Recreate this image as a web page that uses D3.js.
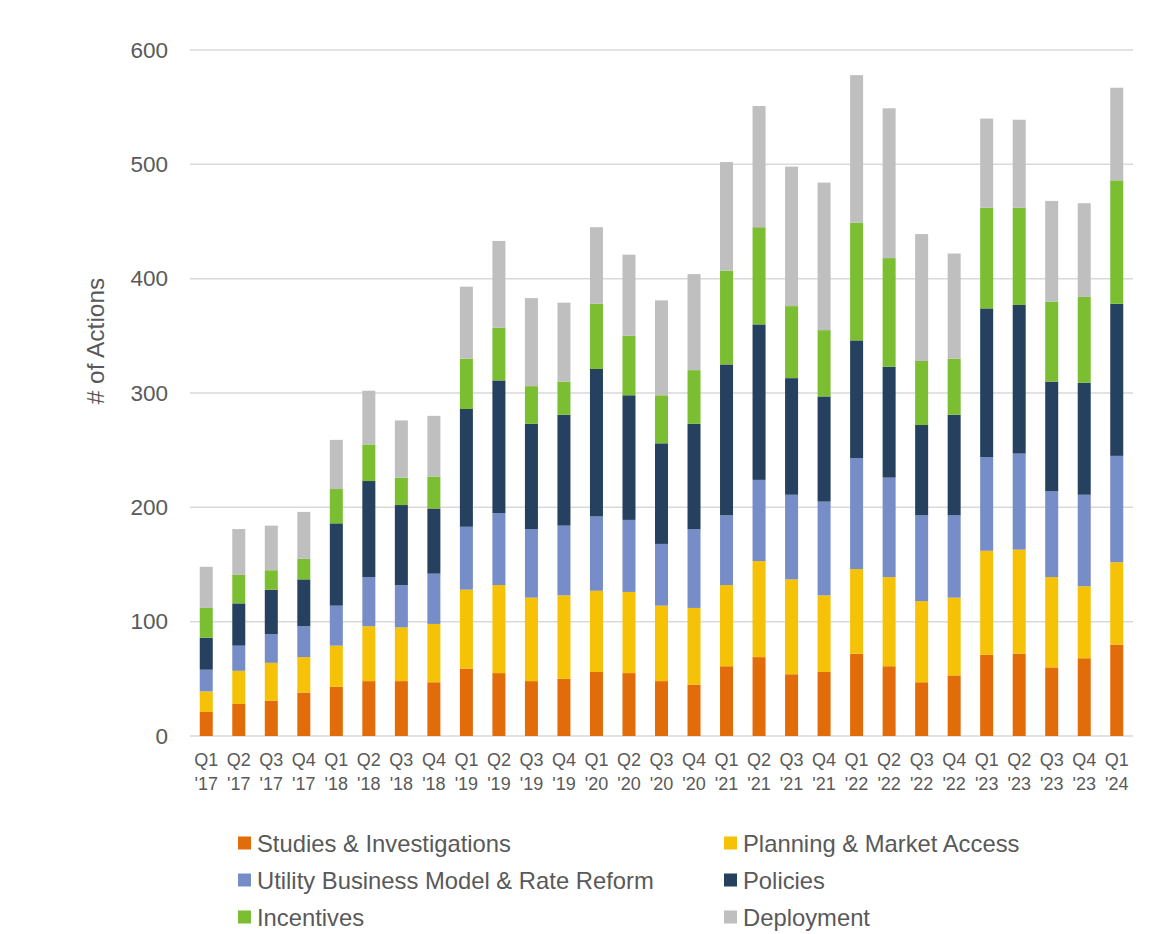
<!DOCTYPE html>
<html>
<head>
<meta charset="utf-8">
<script src="https://cdn.jsdelivr.net/npm/d3@7"></script>
<style>
  body { margin: 0; background: #fff; }
  text { font-family: "Liberation Sans", Arial, sans-serif; fill: #595959; }
</style>
</head>
<body>
<script>
const [W, H] = [1157, 934];
const PLOT = { left: 190, right: 1133, top: 50, bottom: 736 };

const QUARTERS = ['Q1','Q2','Q3','Q4','Q1','Q2','Q3','Q4','Q1','Q2','Q3','Q4','Q1','Q2','Q3','Q4','Q1','Q2','Q3','Q4','Q1','Q2','Q3','Q4','Q1','Q2','Q3','Q4','Q1'];
const YEARS = ["'17","'17","'17","'17","'18","'18","'18","'18","'19","'19","'19","'19","'20","'20","'20","'20","'21","'21","'21","'21","'22","'22","'22","'22","'23","'23","'23","'23","'24"];

const SERIES = ['Studies & Investigations', 'Planning & Market Access', 'Utility Business Model & Rate Reform', 'Policies', 'Incentives', 'Deployment'];
const COLORS = ['#E36C0A', '#F5C207', '#778DC7', '#26415F', '#7CBE32', '#BFBFBF'];

const STUDIES    = [21,28,31,38,43,48,48,47,59,55,48,50,56,55,48,45,61,69,54,56,72,61,47,53,71,72,60,68,80];
const PLANNING   = [18,29,33,31,36,48,47,51,69,77,73,73,71,71,66,67,71,84,83,67,74,78,71,68,91,91,79,63,72];
const UTILITY    = [19,22,25,27,35,43,37,44,55,63,60,61,65,63,54,69,61,71,74,82,97,87,75,72,82,84,75,80,93];
const POLICIES   = [28,37,39,41,72,84,70,57,103,116,92,97,129,109,88,92,132,136,102,92,103,97,79,88,130,130,96,98,133];
const INCENTIVES = [26,25,17,18,30,32,24,28,44,46,33,29,57,52,42,47,82,85,63,58,103,95,56,49,88,85,70,75,108];
const DEPLOYMENT = [36,40,39,41,43,47,50,53,63,76,77,69,67,71,83,84,95,106,122,129,129,131,111,92,78,77,88,82,81];

const Y_TICKS = [0, 100, 200, 300, 400, 500, 600];

document.addEventListener('DOMContentLoaded', () => {
    const cats = QUARTERS.map((q, i) => q + ' ' + YEARS[i]);
    const values = [STUDIES, PLANNING, UTILITY, POLICIES, INCENTIVES, DEPLOYMENT];
    const rows = cats.map((c, i) => {
        const r = { cat: c };
        SERIES.forEach((s, j) => r[s] = values[j][i]);
        return r;
    });

    const svg = d3.select('body').append('svg').attr('width', W).attr('height', H);

    const xScale = d3.scaleBand()
        .domain(cats)
        .range([PLOT.left, PLOT.right])
        .paddingInner(0.6)
        .paddingOuter(0.3);

    const yScale = d3.scaleLinear()
        .domain([0, 600])
        .range([PLOT.bottom, PLOT.top]);

    // gridlines
    svg.append('g')
        .selectAll('line')
        .data(Y_TICKS)
        .enter()
        .append('line')
        .attr('x1', PLOT.left)
        .attr('x2', PLOT.right)
        .attr('y1', d => yScale(d))
        .attr('y2', d => yScale(d))
        .attr('stroke', '#D9D9D9')
        .attr('stroke-width', 1.5);

    // y axis
    const yAxis = d3.axisLeft(yScale)
        .tickValues(Y_TICKS)
        .tickSize(0)
        .tickPadding(22);

    const yg = svg.append('g')
        .attr('transform', 'translate(' + PLOT.left + ',0)')
        .call(yAxis);
    yg.select('.domain').remove();
    yg.selectAll('text').style('font-size', '22.5px').attr('fill', '#595959');

    // stacked bars
    const stack = d3.stack().keys(SERIES)(rows);

    svg.append('g')
        .selectAll('g')
        .data(stack)
        .enter()
        .append('g')
        .attr('fill', (d, i) => COLORS[i])
        .selectAll('rect')
        .data(d => d)
        .enter()
        .append('rect')
        .attr('x', d => xScale(d.data.cat))
        .attr('width', xScale.bandwidth())
        .attr('y', d => yScale(d[1]))
        .attr('height', d => yScale(d[0]) - yScale(d[1]));

    // x axis
    const xAxis = d3.axisBottom(xScale).tickSize(0);
    const xg = svg.append('g')
        .attr('transform', 'translate(0,' + PLOT.bottom + ')')
        .call(xAxis);
    xg.select('.domain').remove();
    xg.selectAll('.tick text').each(function (d, i) {
        const t = d3.select(this);
        t.text(null).attr('dy', null).attr('y', null)
            .style('font-size', '18px').attr('fill', '#595959');
        t.append('tspan').attr('x', 0).attr('y', 30).text(QUARTERS[i]);
        t.append('tspan').attr('x', 0).attr('y', 54).text(YEARS[i]);
    });

    // y title
    svg.append('text')
        .attr('transform', 'translate(104,341) rotate(-90)')
        .style('text-anchor', 'middle')
        .style('font-size', '24.5px')
        .text('# of Actions');

    // legend
    const LEG_X = [238, 724];
    const LEG_Y = [843, 880, 917];
    const leg = svg.append('g')
        .selectAll('g')
        .data(SERIES)
        .enter()
        .append('g')
        .attr('transform', (d, i) => 'translate(' + LEG_X[i % 2] + ',' + LEG_Y[Math.floor(i / 2)] + ')');

    leg.append('rect')
        .attr('x', 0)
        .attr('y', -6.5)
        .attr('width', 13)
        .attr('height', 13)
        .attr('fill', (d, i) => COLORS[i]);

    leg.append('text')
        .attr('x', 19)
        .attr('dy', '0.36em')
        .style('font-size', '23.8px')
        .text(d => d);
});
</script>
</body>
</html>
